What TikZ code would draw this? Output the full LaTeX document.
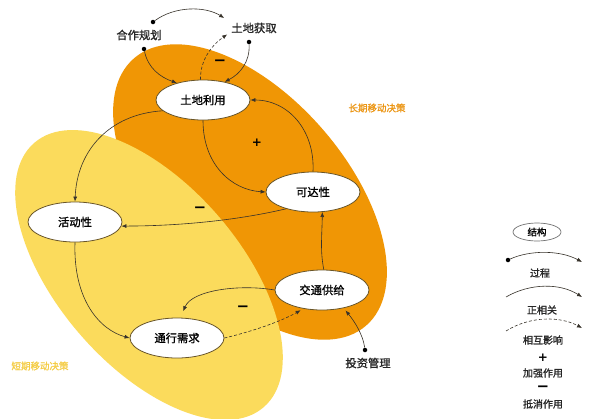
\documentclass[tikz,border=0pt]{standalone}
\usepackage{fontspec}
\setmainfont{Noto Sans CJK SC}[FakeBold=1.2]
\newfontfamily\dejavu{DejaVu Sans}
\usetikzlibrary{arrows.meta,shapes.geometric}
\definecolor{orangeA}{RGB}{240,150,5}
\definecolor{yellowA}{RGB}{251,219,92}
\definecolor{yellowT}{RGB}{245,205,70}
\definecolor{orangeT}{RGB}{236,150,20}
\definecolor{lineC}{RGB}{55,50,42}
\definecolor{borderC}{RGB}{105,85,40}
\begin{document}
\begin{tikzpicture}[x=1pt,y=-1pt,
  conn/.style={draw=lineC, line width=0.6pt, -{Latex[length=5pt,width=4pt]}},
  dashconn/.style={conn, dash pattern=on 3pt off 2pt},
  state/.style={ellipse, draw=borderC, line width=0.8pt, fill=white, minimum width=94pt, minimum height=40pt, inner sep=0pt, font=\fontsize{11.3}{12}\selectfont},
  lab/.style={font=\fontsize{11.3}{12}\selectfont, text=black!85, inner sep=1pt},
  leg/.style={font=\fontsize{10}{11}\selectfont, text=black!85, inner sep=1pt},
  dotn/.style={circle, fill=black, inner sep=0pt, minimum size=4.5pt},
  plus/.style={font=\dejavu\bfseries\fontsize{12}{12}\selectfont, inner sep=0pt},
  minus/.style={font=\dejavu\bfseries\fontsize{15}{15}\selectfont, inner sep=0pt},
  region/.style={font=\fontsize{9.5}{10}\selectfont, inner sep=0pt}
]
\useasboundingbox (0,0) rectangle (589,418);
\clip (0,0) rectangle (589,418);
\fill[white] (0,0) rectangle (589,418);
% regions
\fill[orangeA] (250,192) ellipse [x radius=177pt, y radius=96pt, rotate=-49];
\fill[yellowA] (149,275) ellipse [x radius=175pt, y radius=91pt, rotate=-49];
\node[region, text=orangeT] (rlong) at (377,108) {长期移动决策};
\node[region, text=yellowT] (rshort) at (40,366) {短期移动决策};
% states
\node[state] (tdly) at (203,100) {土地利用};
\node[state] (kdx) at (313,192) {可达性};
\node[state] (jtgj) at (322,290) {交通供给};
\node[state] (hdx) at (75,222) {活动性};
\node[state] (txxq) at (177,338) {通行需求};
% outside labels
\node[lab] (hzgh) at (139,35) {合作规划};
\node[lab] (tdhq) at (254,28) {土地获取};
\node[lab] (tzgl) at (368,363) {投资管理};
\node[dotn] (d1) at (153,22) {};
\node[dotn] (d2) at (144,49) {};
\node[dotn] (d3) at (249,42) {};
\node[dotn] (d4) at (365,350) {};
% connectors
\draw[conn] (d1) .. controls (175,6) and (205,6) .. ([shift={(-6,-10)}]tdhq.west);
\draw[conn] (d2) .. controls (148,68) and (160,77) .. (tdly.147);
\draw[conn] (d3) .. controls (250,62) and (240,74) .. (tdly.40);
\draw[dashconn] (tdly.97) .. controls (200,60) and (212,45) .. ([shift={(-3,0)}]tdhq.south west);
\draw[conn] (tdly.south) .. controls (203,165) and (232,190) .. (kdx.west);
\draw[conn] (kdx.north) .. controls (315,130) and (288,100) .. (tdly.east);
\draw[conn] (tdly.195) .. controls (110,114) and (77,150) .. (hdx.north);
\draw[conn] (kdx.212) .. controls (230,222) and (170,226) .. (hdx.-5);
\draw[conn] (jtgj.85) .. controls (320,250) and (322,236) .. (kdx.-65);
\draw[conn, shorten >=7pt] (jtgj.west) .. controls (240,284) and (192,290) .. (txxq.80);
\draw[dashconn, shorten >=3pt] (txxq.east) .. controls (250,332) and (280,322) .. (jtgj.225);
\draw[conn] (hdx.south) .. controls (73,300) and (100,330) .. (txxq.west);
\draw[conn, shorten >=3pt] (d4) .. controls (363,335) and (355,322) .. (jtgj.-40);
% signs
\node[minus] (s1) at (220,63) {−};
\node[plus] (s2) at (257,143) {+};
\node[minus] (s3) at (200,210) {−};
\node[minus] (s4) at (243,309) {−};
% legend
\node[ellipse, draw=black!55, line width=0.7pt, fill=white, minimum width=48pt, minimum height=18pt, inner sep=0pt, font=\fontsize{9.5}{10}\selectfont] (lg) at (537,232) {结构};
\node[dotn] (ld1) at (508,260) {};
\coordinate (le1) at (582,262);
\draw[conn] (ld1) .. controls (530,250) and (560,250) .. (le1);
\node[leg] (lt1) at (540,273) {过程};
\coordinate (ls2) at (506,297);
\coordinate (le2) at (582,297);
\draw[conn] (ls2) .. controls (530,283) and (560,283) .. (le2);
\node[leg] (lt2) at (542,310) {正相关};
\coordinate (ls3) at (506,331);
\coordinate (le3) at (582,328);
\draw[dashconn] (ls3) .. controls (530,316) and (560,316) .. (le3);
\node[leg] (lt3) at (543,340) {相互影响};
\node[plus] (lp) at (543,358) {+};
\node[leg] (lt4) at (543,373) {加强作用};
\node[minus] (lm) at (543,389) {−};
\node[leg] (lt5) at (543,404) {抵消作用};
\end{tikzpicture}
\end{document}
